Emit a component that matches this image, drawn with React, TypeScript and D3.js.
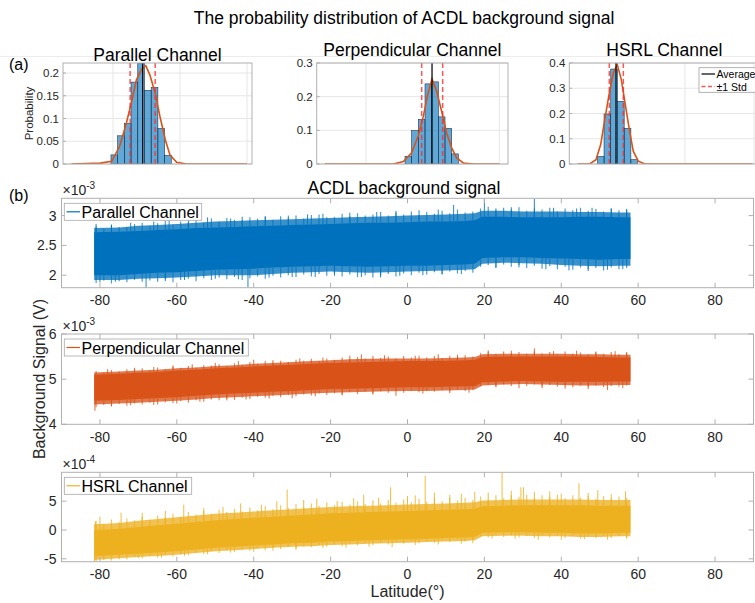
import React from 'react';
import * as d3 from 'd3';

const W = 755, H = 603;
const FONT = "'Liberation Sans', Arial, Helvetica, sans-serif";
const TXT = '#262626';
const AXC = '#b0b0b0';
const GRID = '#e6e6e6';

// ---------- (a) histogram data (signal value in units of the series' exponent) ----------
const parBinCenters = [2.02, 2.12, 2.22, 2.32, 2.42, 2.52, 2.62, 2.72, 2.82];
const parProbs = [0.020, 0.062, 0.089, 0.180, 0.222, 0.162, 0.168, 0.078, 0.019];
const parFitX = [1.38, 1.81, 1.98, 2.10, 2.20, 2.28, 2.35, 2.43, 2.49, 2.55, 2.63, 2.70, 2.78, 2.85, 2.95, 3.10, 4.0];
const parFitY = [0, 0.002, 0.006, 0.039, 0.09, 0.138, 0.185, 0.209, 0.216, 0.196, 0.156, 0.105, 0.054, 0.02, 0.004, 0, 0];
const parStats = [2.443, 2.256, 2.630]; // mean, mean-std, mean+std

const perBinCenters = [4.635, 4.735, 4.835, 4.935, 5.035, 5.135, 5.235, 5.335];
const perProbs = [0.023, 0.099, 0.132, 0.238, 0.244, 0.140, 0.106, 0.030];
const perFitX = [3.385, 4.41, 4.56, 4.685, 4.785, 4.86, 4.925, 4.99, 5.06, 5.135, 5.21, 5.285, 5.36, 5.46, 5.61, 6.0];
const perFitY = [0, 0, 0.007, 0.033, 0.084, 0.142, 0.206, 0.252, 0.216, 0.156, 0.092, 0.048, 0.018, 0.003, 0, 0];
const perStats = [4.99, 4.835, 5.15];

const hsrBinCenters = [-0.22, -0.125, -0.028, 0.07, 0.167, 0.264];
const hsrProbs = [0.030, 0.198, 0.376, 0.248, 0.141, 0.017];
const hsrFitX = [-0.555, -0.377, -0.29, -0.222, -0.159, -0.097, -0.039, 0.019, 0.077, 0.135, 0.193, 0.251, 0.323, 0.42, 1.98];
const hsrFitY = [0, 0.001, 0.017, 0.077, 0.182, 0.281, 0.36, 0.393, 0.334, 0.235, 0.136, 0.05, 0.011, 0, 0];
const hsrStats = [0.0, -0.097, 0.106];

const parYTicks = [0, 0.05, 0.1, 0.15, 0.2];
const perYTicks = [0, 0.1, 0.2, 0.3];
const hsrYTicks = [0, 0.1, 0.2, 0.3, 0.4];
const parGridX = [2, 3, 4];
const perGridX = [4, 5, 6];
const hsrGridX = [0, 1, 2];

// ---------- (b) time series envelopes ----------
const lat = [-81.5, -75, -70, -65, -60, -55, -50, -45, -40, -35, -30, -25, -20, -15, -10, -5, 0, 5, 10, 15, 17.5, 19.5, 25, 30, 35, 40, 45, 50, 55, 58];

const parCoreLo = [2.00, 2.00, 2.02, 2.04, 2.05, 2.07, 2.09, 2.10, 2.11, 2.13, 2.14, 2.15, 2.16, 2.15, 2.14, 2.15, 2.16, 2.16, 2.17, 2.18, 2.19, 2.29, 2.30, 2.30, 2.29, 2.28, 2.27, 2.26, 2.27, 2.27];
const parCoreHi = [2.72, 2.73, 2.74, 2.76, 2.77, 2.79, 2.80, 2.81, 2.82, 2.83, 2.84, 2.85, 2.86, 2.87, 2.88, 2.88, 2.89, 2.90, 2.90, 2.91, 2.92, 2.98, 2.98, 2.97, 2.97, 2.97, 2.98, 2.98, 2.97, 2.97];
const parEnvLo = [1.92, 1.92, 1.94, 1.95, 1.96, 1.98, 2.00, 2.00, 2.00, 2.02, 2.04, 2.05, 2.06, 2.05, 2.04, 2.05, 2.06, 2.07, 2.08, 2.09, 2.10, 2.19, 2.21, 2.20, 2.19, 2.17, 2.16, 2.15, 2.16, 2.16];
const parEnvHi = [2.79, 2.80, 2.83, 2.84, 2.86, 2.88, 2.90, 2.91, 2.92, 2.93, 2.94, 2.95, 2.96, 2.97, 2.98, 2.99, 3.00, 3.01, 3.02, 3.03, 3.04, 3.08, 3.08, 3.07, 3.07, 3.07, 3.06, 3.06, 3.05, 3.05];
const parSpikeUpLat = [-81, -77, -72, -66, -62, -57, -52, -46, -43, -37, -31, -26, -22, -15, -8, -3, 3, 8, 12, 20, 23, 27, 33, 38, 44, 48, 53, 57];
const parSpikeUpVal = [2.86, 2.85, 2.88, 2.90, 2.92, 2.93, 2.97, 2.95, 2.98, 2.99, 3.00, 3.02, 3.03, 3.05, 3.06, 3.08, 3.09, 3.10, 3.18, 3.28, 3.12, 3.14, 3.28, 3.13, 3.12, 3.13, 3.12, 3.10];
const parSpikeDnLat = [-80, -76, -68, -63, -58, -50, -44, -41.5, -36, -30, -24, -19, -12, -7, -2, 4, 9, 14, 23, 29, 36, 42, 47, 52, 56];
const parSpikeDnVal = [1.88, 1.89, 1.78, 1.90, 1.92, 1.94, 1.93, 1.80, 1.96, 1.97, 1.97, 1.99, 1.97, 1.96, 1.99, 2.00, 2.01, 2.02, 2.12, 2.13, 2.10, 2.08, 2.07, 2.09, 2.10];

const perCoreLo = [4.52, 4.54, 4.56, 4.58, 4.60, 4.63, 4.66, 4.68, 4.70, 4.72, 4.74, 4.76, 4.78, 4.79, 4.80, 4.81, 4.82, 4.82, 4.83, 4.84, 4.84, 4.93, 4.95, 4.96, 4.95, 4.94, 4.94, 4.94, 4.95, 4.95];
const perCoreHi = [5.10, 5.12, 5.14, 5.16, 5.19, 5.21, 5.24, 5.26, 5.28, 5.30, 5.32, 5.34, 5.36, 5.37, 5.38, 5.39, 5.40, 5.40, 5.41, 5.42, 5.43, 5.49, 5.50, 5.50, 5.50, 5.50, 5.50, 5.49, 5.48, 5.48];
const perEnvLo = [4.44, 4.46, 4.48, 4.50, 4.52, 4.55, 4.58, 4.60, 4.62, 4.64, 4.66, 4.68, 4.70, 4.71, 4.72, 4.73, 4.74, 4.74, 4.75, 4.76, 4.77, 4.86, 4.88, 4.89, 4.88, 4.87, 4.86, 4.86, 4.87, 4.87];
const perEnvHi = [5.15, 5.17, 5.19, 5.21, 5.24, 5.26, 5.29, 5.31, 5.34, 5.36, 5.38, 5.40, 5.42, 5.44, 5.45, 5.46, 5.46, 5.46, 5.47, 5.48, 5.49, 5.55, 5.56, 5.56, 5.56, 5.56, 5.55, 5.55, 5.54, 5.54];
const perSpikeUpLat = [-78, -71, -66, -61, -56, -50, -44, -40, -35, -28, -22, -15, -12, -6, 2, 8, 13, 21, 27, 33, 38, 44, 49, 54, 57];
const perSpikeUpVal = [5.22, 5.25, 5.27, 5.30, 5.33, 5.36, 5.40, 5.43, 5.42, 5.46, 5.48, 5.52, 5.55, 5.53, 5.52, 5.55, 5.54, 5.64, 5.63, 5.68, 5.62, 5.63, 5.61, 5.62, 5.60];
const perSpikeDnLat = [-81.3, -77, -72, -66, -60, -54, -47, -42, -36, -30, -24, -17, -9, -3, 4, 11, 16, 23, 29, 35, 41, 47, 52, 56];
const perSpikeDnVal = [4.30, 4.40, 4.42, 4.43, 4.46, 4.50, 4.53, 4.55, 4.57, 4.58, 4.62, 4.64, 4.66, 4.63, 4.68, 4.69, 4.70, 4.82, 4.80, 4.80, 4.79, 4.78, 4.76, 4.80];

const hsrCoreLo = [-4.5, -4.3, -4.1, -3.9, -3.7, -3.4, -3.1, -2.9, -2.7, -2.5, -2.3, -2.2, -2.0, -1.9, -1.8, -1.7, -1.6, -1.5, -1.4, -1.3, -1.2, -0.5, -0.4, -0.4, -0.5, -0.5, -0.6, -0.6, -0.5, -0.5];
const hsrCoreHi = [0.0, 0.2, 0.5, 0.8, 1.1, 1.4, 1.7, 1.9, 2.1, 2.3, 2.5, 2.7, 2.9, 3.0, 3.1, 3.2, 3.3, 3.4, 3.5, 3.6, 3.7, 4.1, 4.2, 4.3, 4.3, 4.3, 4.3, 4.2, 4.2, 4.2];
const hsrEnvLo = [-5.2, -4.9, -4.7, -4.5, -4.3, -4.0, -3.7, -3.5, -3.3, -3.1, -2.9, -2.8, -2.6, -2.5, -2.4, -2.3, -2.2, -2.1, -2.0, -1.9, -1.8, -1.1, -1.0, -1.0, -1.1, -1.1, -1.2, -1.2, -1.1, -1.1];
const hsrEnvHi = [1.0, 1.2, 1.6, 1.9, 2.2, 2.5, 2.8, 3.0, 3.2, 3.4, 3.6, 3.8, 4.0, 4.1, 4.2, 4.3, 4.4, 4.5, 4.6, 4.7, 4.8, 5.1, 5.2, 5.3, 5.3, 5.3, 5.3, 5.2, 5.2, 5.2];
const hsrSpikeUpLat = [-81.2, -80, -74.5, -69, -63, -58.2, -53, -48, -43.4, -38, -34, -31.3, -27, -23.6, -18.3, -14, -11.4, -7.5, -4.4, 0, 2, 4.6, 7, 11, 14, 17.5, 21, 24.6, 27, 29.5, 30.2, 33, 37, 40, 44.6, 47, 49.5, 53, 56.7];
const hsrSpikeUpVal = [1.5, 2.3, 3.0, 3.0, 3.3, 4.4, 3.8, 4.0, 4.6, 4.4, 5.0, 7.0, 5.2, 5.4, 5.0, 5.5, 6.1, 5.6, 7.4, 5.9, 6.0, 9.4, 6.5, 6.1, 6.3, 6.6, 6.5, 10.0, 6.8, 7.4, 7.4, 6.6, 6.7, 6.3, 8.1, 6.4, 6.9, 6.2, 6.7];
const hsrSpikeDnLat = [-81.4, -79, -75, -70, -64, -58, -52, -46, -40, -35, -29, -22, -16, -10, -4, 2, 8, 14, 17, 22, 28, 34, 40, 46, 52, 57];
const hsrSpikeDnVal = [-5.5, -5.2, -5.1, -4.9, -4.8, -4.5, -4.2, -3.9, -3.8, -3.6, -3.4, -3.1, -3.1, -2.9, -3.0, -2.6, -2.5, -2.4, -2.3, -1.5, -1.5, -1.7, -1.7, -1.6, -1.7, -1.5];

// fringe (per-2° extreme estimates of the noisy trace)
const fringeLat = [-81, -79, -77, -75, -73, -71, -69, -67, -65, -63, -61, -59, -57, -55, -53, -51, -49, -47, -45, -43, -41, -39, -37, -35, -33, -31, -29, -27, -25, -23, -21, -19, -17, -15, -13, -11, -9, -7, -5, -3, -1, 1, 3, 5, 7, 9, 11, 13, 15, 17, 19, 21, 23, 25, 27, 29, 31, 33, 35, 37, 39, 41, 43, 45, 47, 49, 51, 53, 55, 57];
const parFrHi = [2.82, 2.78, 2.84, 2.81, 2.80, 2.86, 2.88, 2.83, 2.87, 2.91, 2.85, 2.90, 2.89, 2.93, 2.88, 2.95, 2.90, 2.96, 2.93, 2.92, 2.97, 2.95, 2.98, 2.93, 2.99, 2.96, 3.00, 2.95, 3.01, 3.02, 2.97, 2.98, 3.03, 2.99, 3.04, 3.00, 3.02, 3.06, 3.00, 3.05, 3.02, 3.07, 3.01, 3.06, 3.03, 3.08, 3.04, 3.10, 3.05, 3.07, 3.12, 3.15, 3.09, 3.13, 3.10, 3.14, 3.08, 3.12, 3.10, 3.13, 3.07, 3.12, 3.09, 3.13, 3.08, 3.11, 3.07, 3.12, 3.09, 3.11];
const parFrLo = [1.87, 1.91, 1.86, 1.90, 1.88, 1.92, 1.89, 1.91, 1.89, 1.93, 1.88, 1.92, 1.94, 1.90, 1.95, 1.92, 1.96, 1.93, 1.97, 1.92, 1.95, 1.98, 1.94, 1.99, 1.96, 2.00, 1.97, 2.01, 1.98, 2.02, 1.99, 2.03, 1.98, 2.01, 1.97, 2.00, 1.96, 1.99, 2.02, 1.98, 2.03, 2.00, 2.04, 2.01, 2.05, 2.02, 2.06, 2.03, 2.07, 2.04, 2.14, 2.17, 2.13, 2.18, 2.14, 2.17, 2.12, 2.16, 2.11, 2.15, 2.10, 2.14, 2.09, 2.13, 2.10, 2.12, 2.08, 2.13, 2.10, 2.12];
const perFrHi = [5.18, 5.15, 5.20, 5.17, 5.22, 5.21, 5.24, 5.20, 5.26, 5.22, 5.28, 5.25, 5.29, 5.26, 5.31, 5.30, 5.33, 5.29, 5.35, 5.32, 5.38, 5.34, 5.40, 5.37, 5.41, 5.38, 5.43, 5.41, 5.45, 5.40, 5.46, 5.43, 5.48, 5.44, 5.49, 5.46, 5.51, 5.47, 5.50, 5.46, 5.51, 5.48, 5.52, 5.48, 5.51, 5.47, 5.52, 5.49, 5.53, 5.50, 5.58, 5.60, 5.56, 5.61, 5.57, 5.60, 5.56, 5.61, 5.57, 5.60, 5.55, 5.61, 5.57, 5.59, 5.55, 5.59, 5.56, 5.60, 5.55, 5.58];
const perFrLo = [4.38, 4.43, 4.40, 4.45, 4.41, 4.46, 4.44, 4.48, 4.44, 4.49, 4.47, 4.51, 4.48, 4.53, 4.50, 4.55, 4.53, 4.57, 4.54, 4.59, 4.56, 4.61, 4.59, 4.63, 4.60, 4.65, 4.62, 4.66, 4.64, 4.68, 4.65, 4.69, 4.66, 4.71, 4.67, 4.72, 4.68, 4.73, 4.70, 4.74, 4.70, 4.75, 4.71, 4.75, 4.72, 4.76, 4.73, 4.77, 4.74, 4.76, 4.84, 4.87, 4.84, 4.88, 4.85, 4.89, 4.85, 4.88, 4.84, 4.87, 4.83, 4.86, 4.82, 4.86, 4.83, 4.86, 4.82, 4.85, 4.83, 4.86];
const hsrFrHi = [1.6, 1.0, 1.8, 1.4, 2.0, 1.7, 2.3, 1.8, 2.5, 2.2, 2.8, 2.3, 3.1, 2.7, 3.3, 2.8, 3.5, 3.1, 3.7, 3.2, 3.9, 3.4, 4.1, 3.6, 4.3, 3.8, 4.5, 3.9, 4.6, 4.2, 4.8, 4.3, 4.9, 4.4, 5.0, 4.5, 5.1, 4.6, 5.2, 4.7, 5.3, 4.8, 5.4, 4.9, 5.5, 5.0, 5.6, 5.1, 5.6, 5.2, 5.8, 5.3, 6.0, 5.5, 6.0, 5.7, 6.1, 5.5, 6.0, 5.7, 6.1, 5.5, 6.0, 5.6, 5.9, 5.4, 5.9, 5.5, 5.8, 5.6];
const hsrFrLo = [-5.5, -5.0, -5.3, -4.8, -5.1, -4.7, -4.9, -4.5, -4.8, -4.4, -4.6, -4.2, -4.4, -3.9, -4.2, -3.7, -4.0, -3.5, -3.8, -3.4, -3.6, -3.2, -3.5, -3.1, -3.3, -2.9, -3.2, -2.8, -3.0, -2.6, -2.9, -2.5, -2.8, -2.4, -2.7, -2.3, -2.6, -2.2, -2.5, -2.1, -2.4, -2.0, -2.3, -1.9, -2.2, -1.8, -2.1, -1.7, -2.0, -1.7, -1.1, -1.3, -0.9, -1.2, -0.9, -1.3, -1.0, -1.4, -1.0, -1.3, -0.9, -1.4, -1.0, -1.5, -1.1, -1.4, -1.0, -1.4, -1.1, -1.3];

const latTicks = [-80, -60, -40, -20, 0, 20, 40, 60, 80];
const parYTicksB = [2, 2.5, 3];
const perYTicksB = [4, 5, 6];
const hsrYTicksB = [-5, 0, 5];

const COLORS = { par: '#0072BD', per: '#D95319', hsr: '#EDB120' };

function fmt(v: number) {
  return String(v);
}

type HistProps = {
  x0: number; x1: number; y0: number; y1: number;
  xDomain: [number, number]; yMax: number; yTicks: number[]; gridX: number[];
  centers: number[]; width: number; probs: number[];
  fitX: number[]; fitY: number[]; stats: number[];
  title: string; titleY: number; ylabel?: string; legend?: boolean; id: string;
};

function Hist(p: HistProps) {
  const xs = d3.scaleLinear().domain(p.xDomain).range([p.x0, p.x1]);
  const ys = d3.scaleLinear().domain([0, p.yMax]).range([p.y1, p.y0]);
  const line = d3.line<number>().x((_, i) => xs(p.fitX[i])).y((d) => ys(d));
  const cx = (p.x0 + p.x1) / 2;
  return (
    <g>
      <defs>
        <clipPath id={p.id}>
          <rect x={p.x0} y={p.y0} width={p.x1 - p.x0} height={p.y1 - p.y0} />
        </clipPath>
      </defs>
      <rect x={p.x0} y={p.y0} width={p.x1 - p.x0} height={p.y1 - p.y0} fill="#fff" />
      {p.gridX.map((g) => (
        <line key={'gx' + g} x1={xs(g)} x2={xs(g)} y1={p.y0} y2={p.y1} stroke={GRID} strokeWidth={1} />
      ))}
      {p.yTicks.map((t) => (
        <line key={'gy' + t} x1={p.x0} x2={p.x1} y1={ys(t)} y2={ys(t)} stroke={GRID} strokeWidth={1} />
      ))}
      <g clipPath={`url(#${p.id})`}>
        {p.probs.map((v, i) => (
          <rect key={i} x={xs(p.centers[i] - p.width / 2)} y={ys(v)}
            width={xs(p.centers[i] + p.width / 2) - xs(p.centers[i] - p.width / 2)}
            height={ys(0) - ys(v)} fill="#0072BD" fillOpacity={0.62} stroke="#1b3550" strokeWidth={0.6} />
        ))}
        <path d={line(p.fitY) || ''} fill="none" stroke="#D95319" strokeWidth={1.6} />
        <line x1={xs(p.stats[0])} x2={xs(p.stats[0])} y1={p.y0} y2={p.y1} stroke="#000" strokeWidth={1.2} />
        <line x1={xs(p.stats[1])} x2={xs(p.stats[1])} y1={p.y0} y2={p.y1} stroke="#ff2a2a" strokeOpacity={0.8} strokeWidth={1.5} strokeDasharray="5,3" />
        <line x1={xs(p.stats[2])} x2={xs(p.stats[2])} y1={p.y0} y2={p.y1} stroke="#ff2a2a" strokeOpacity={0.8} strokeWidth={1.5} strokeDasharray="5,3" />
      </g>
      <rect x={p.x0} y={p.y0} width={p.x1 - p.x0} height={p.y1 - p.y0} fill="none" stroke={AXC} strokeWidth={1} />
      {p.yTicks.map((t) => (
        <g key={'yt' + t}>
          <line x1={p.x0} x2={p.x0 + 3} y1={ys(t)} y2={ys(t)} stroke={AXC} />
          <text x={p.x0 - 4} y={ys(t) + 4} textAnchor="end" fontSize={11.5} fill={TXT}>{fmt(t)}</text>
        </g>
      ))}
      <text x={cx} y={p.titleY} textAnchor="middle" fontSize={17.5} fill="#000">{p.title}</text>
      {p.ylabel && (
        <text transform={`translate(32.5,${(p.y0 + p.y1) / 2}) rotate(-90)`} textAnchor="middle" fontSize={11.5} fill={TXT}>{p.ylabel}</text>
      )}
      {p.legend && (
        <g>
          <rect x={699} y={67.7} width={80} height={24.6} fill="#fff" stroke="#a0a0a0" strokeWidth={0.8} />
          <line x1={701.5} x2={715} y1={74} y2={74} stroke="#000" strokeWidth={1.2} />
          <text x={716.5} y={78} fontSize={10.5} fill="#000">Average</text>
          <line x1={701.5} x2={715} y1={86.5} y2={86.5} stroke="#ff2a2a" strokeOpacity={0.8} strokeWidth={1.5} strokeDasharray="4,2.5" />
          <text x={716.5} y={90.5} fontSize={10.5} fill="#000">±1 Std</text>
        </g>
      )}
    </g>
  );
}

type SerProps = {
  y0: number; y1: number; yDomain: [number, number]; yTicks: number[]; exp: string;
  color: string; name: string; legendW: number;
  coreLo: number[]; coreHi: number[]; envLo: number[]; envHi: number[];
  frHi: number[]; frLo: number[];
  upLat: number[]; upVal: number[]; dnLat: number[]; dnVal: number[]; id: string;
};

const BX0 = 61.5, BX1 = 753.5;

function Series(p: SerProps) {
  const xs = d3.scaleLinear().domain([-90, 90]).range([BX0, BX1]);
  const ys = d3.scaleLinear().domain(p.yDomain).range([p.y1, p.y0]);
  const env = d3.area<number>().x((d) => xs(d)).y0((_, i) => ys(p.envLo[i])).y1((_, i) => ys(p.envHi[i]));
  const core = d3.area<number>().x((d) => xs(d)).y0((_, i) => ys(p.coreLo[i])).y1((_, i) => ys(p.coreHi[i]));
  const hiAt = d3.scaleLinear().domain(lat).range(p.coreHi).clamp(true);
  const loAt = d3.scaleLinear().domain(lat).range(p.coreLo).clamp(true);
  return (
    <g>
      <defs>
        <clipPath id={p.id}>
          <rect x={BX0} y={p.y0} width={BX1 - BX0} height={p.y1 - p.y0} />
        </clipPath>
      </defs>
      <g clipPath={`url(#${p.id})`}>
        <path d={env(lat) || ''} fill={p.color} fillOpacity={0.78} />
        {fringeLat.map((l, i) => (
          <g key={'f' + i}>
            <line x1={xs(l)} x2={xs(l)} y1={ys(hiAt(l))} y2={ys(p.frHi[i])} stroke={p.color} strokeWidth={1.2} strokeOpacity={0.7} />
            <line x1={xs(l)} x2={xs(l)} y1={ys(loAt(l))} y2={ys(p.frLo[i])} stroke={p.color} strokeWidth={1.2} strokeOpacity={0.7} />
          </g>
        ))}
        {p.upLat.map((l, i) => (
          <line key={'u' + i} x1={xs(l)} x2={xs(l)} y1={ys(hiAt(l))} y2={ys(p.upVal[i])} stroke={p.color} strokeWidth={1} strokeOpacity={0.85} />
        ))}
        {p.dnLat.map((l, i) => (
          <line key={'d' + i} x1={xs(l)} x2={xs(l)} y1={ys(loAt(l))} y2={ys(p.dnVal[i])} stroke={p.color} strokeWidth={1} strokeOpacity={0.85} />
        ))}
        <path d={core(lat) || ''} fill={p.color} />
      </g>
      <rect x={BX0} y={p.y0} width={BX1 - BX0} height={p.y1 - p.y0} fill="none" stroke={AXC} strokeWidth={1} />
      {latTicks.map((t) => (
        <g key={'xt' + t}>
          <line x1={xs(t)} x2={xs(t)} y1={p.y1} y2={p.y1 - 5} stroke={AXC} />
          <line x1={xs(t)} x2={xs(t)} y1={p.y0} y2={p.y0 + 5} stroke={AXC} />
          <text x={xs(t)} y={p.y1 + 17.5} textAnchor="middle" fontSize={14} fill={TXT}>{fmt(t)}</text>
        </g>
      ))}
      {p.yTicks.map((t) => (
        <g key={'yt' + t}>
          <line x1={BX0} x2={BX0 + 5} y1={ys(t)} y2={ys(t)} stroke={AXC} />
          <line x1={BX1} x2={BX1 - 5} y1={ys(t)} y2={ys(t)} stroke={AXC} />
          <text x={BX0 - 5} y={ys(t) + 5} textAnchor="end" fontSize={14} fill={TXT}>{fmt(t)}</text>
        </g>
      ))}
      <text x={BX0 + 1} y={p.y0 - 3} fontSize={14} fill={TXT}>×10<tspan dy={-6} fontSize={10}>{p.exp}</tspan></text>
      <g>
        <rect x={64.3} y={p.y0 + 5} width={p.legendW} height={17} fill="#fff" stroke="#a8a8a8" strokeWidth={0.8} />
        <line x1={66.5} x2={80} y1={p.y0 + 13.5} y2={p.y0 + 13.5} stroke={p.color} strokeWidth={1.2} />
        <text x={81.5} y={p.y0 + 19.8} fontSize={16} fill="#000">{p.name}</text>
      </g>
    </g>
  );
}

export default function App() {
  return (
    <svg width={W} height={H} viewBox={`0 0 ${W} ${H}`}
      style={{ position: 'absolute', left: 0, top: 0, fontFamily: FONT, background: '#fff' }}>
      <rect x={0} y={0} width={W} height={H} fill="#fff" />
      <line x1={0} x2={W} y1={56.5} y2={56.5} stroke="#ececec" strokeWidth={1} />
      <text x={404} y={23.5} textAnchor="middle" fontSize={17.5} fill="#000">The probability distribution of ACDL background signal</text>
      <text x={9} y={69.5} fontSize={16} fill="#000">(a)</text>
      <text x={9} y={201} fontSize={16} fill="#000">(b)</text>

      <Hist id="h1" x0={63} x1={252} y0={63} y1={164} xDomain={[1.254, 4.075]} yMax={0.222}
        yTicks={parYTicks} gridX={parGridX} centers={parBinCenters} width={0.1} probs={parProbs}
        fitX={parFitX} fitY={parFitY} stats={parStats} title="Parallel Channel" titleY={61} ylabel="Probability" />
      <Hist id="h2" x0={316.7} x1={508} y0={63} y1={164} xDomain={[3.26, 6.13]} yMax={0.3}
        yTicks={perYTicks} gridX={perGridX} centers={perBinCenters} width={0.1} probs={perProbs}
        fitX={perFitX} fitY={perFitY} stats={perStats} title="Perpendicular Channel" titleY={56} />
      <Hist id="h3" x0={569.3} x1={759.3} y0={63} y1={164} xDomain={[-0.677, 2.077]} yMax={0.4}
        yTicks={hsrYTicks} gridX={hsrGridX} centers={hsrBinCenters} width={0.097} probs={hsrProbs}
        fitX={hsrFitX} fitY={hsrFitY} stats={hsrStats} title="HSRL Channel" titleY={56} legend />

      <text x={404} y={194} textAnchor="middle" fontSize={17.5} fill="#000">ACDL background signal</text>

      <Series id="s1" y0={198.3} y1={287.7} yDomain={[1.79, 3.29]} yTicks={parYTicksB} exp="-3"
        color={COLORS.par} name="Parallel Channel" legendW={137.4}
        coreLo={parCoreLo} coreHi={parCoreHi} envLo={parEnvLo} envHi={parEnvHi}
        frHi={parFrHi} frLo={parFrLo}
        upLat={parSpikeUpLat} upVal={parSpikeUpVal} dnLat={parSpikeDnLat} dnVal={parSpikeDnVal} />
      <Series id="s2" y0={334} y1={424.3} yDomain={[4, 6]} yTicks={perYTicksB} exp="-3"
        color={COLORS.per} name="Perpendicular Channel" legendW={184}
        coreLo={perCoreLo} coreHi={perCoreHi} envLo={perEnvLo} envHi={perEnvHi}
        frHi={perFrHi} frLo={perFrLo}
        upLat={perSpikeUpLat} upVal={perSpikeUpVal} dnLat={perSpikeDnLat} dnVal={perSpikeDnVal} />
      <Series id="s3" y0={472.3} y1={561.7} yDomain={[-5.5, 10]} yTicks={hsrYTicksB} exp="-4"
        color={COLORS.hsr} name="HSRL Channel" legendW={127.4}
        coreLo={hsrCoreLo} coreHi={hsrCoreHi} envLo={hsrEnvLo} envHi={hsrEnvHi}
        frHi={hsrFrHi} frLo={hsrFrLo}
        upLat={hsrSpikeUpLat} upVal={hsrSpikeUpVal} dnLat={hsrSpikeDnLat} dnVal={hsrSpikeDnVal} />

      <text transform="translate(44.5,379) rotate(-90)" textAnchor="middle" fontSize={16} fill={TXT}>Background Signal (V)</text>
      <text x={407.5} y={597} textAnchor="middle" fontSize={16} fill={TXT}>Latitude(°)</text>
    </svg>
  );
}
